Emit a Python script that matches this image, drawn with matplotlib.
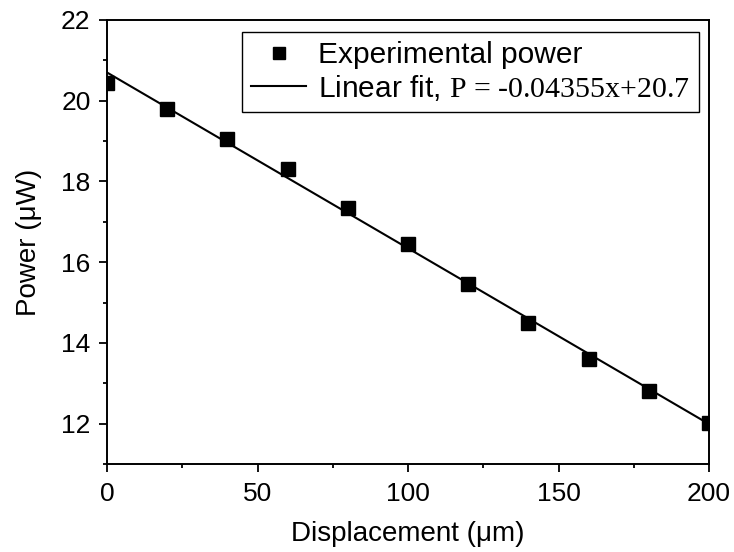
import numpy as np
import matplotlib
matplotlib.use("Agg")
import matplotlib.pyplot as plt
from matplotlib.ticker import MultipleLocator

plt.rcParams['font.family'] = ['Liberation Sans', 'DejaVu Sans']
plt.rcParams['mathtext.fontset'] = 'custom'
plt.rcParams['mathtext.rm'] = 'Liberation Serif'

# Measured power vs displacement
displacement = [0, 20, 40, 60, 80, 100, 120, 140, 160, 180, 200]
power = [20.45, 19.8, 19.05, 18.3, 17.35, 16.45, 15.45, 14.5, 13.6, 12.8, 12.02]

# Linear fit from the legend
fit_slope = -0.04355
fit_intercept = 20.7

fig = plt.figure(figsize=(7.34, 5.52), dpi=100)
ax = fig.add_axes([107 / 734, 1 - 464 / 552, (709 - 107) / 734, (464 - 20) / 552])

x = np.array(displacement)
ax.plot(x, power, "s", color="black", ms=9.5, label="Experimental power")
ax.plot(x, fit_slope * x + fit_intercept, "-", color="black", lw=1.5,
        label=r"Linear fit, $\text{P = -0.04355x+20.7}$")

ax.set_xlim(0, 200)
ax.set_ylim(11, 22)
ax.xaxis.set_major_locator(MultipleLocator(50))
ax.xaxis.set_minor_locator(MultipleLocator(25))
ax.yaxis.set_major_locator(MultipleLocator(2))
ax.yaxis.set_minor_locator(MultipleLocator(1))
ax.tick_params(which="both", direction="out", top=False, right=False, width=1.3, labelsize=19)
ax.tick_params(which="major", length=5.8)
ax.tick_params(which="minor", length=3)
ax.tick_params(axis="x", which="major", pad=7)
ax.tick_params(axis="y", which="major", pad=6)
for s in ax.spines.values():
    s.set_linewidth(1.4)

ax.set_xlabel("Displacement (μm)", fontsize=20, labelpad=11)
ax.set_ylabel("Power (μW)", fontsize=20, labelpad=14)

leg = ax.legend(loc="upper left", bbox_to_anchor=(242 / 734, 1 - 32 / 552),
                bbox_transform=fig.transFigure, borderaxespad=0,
                fontsize=21.5, frameon=True, fancybox=False, markerscale=0.85,
                edgecolor="black", handlelength=1.85, handletextpad=0.4,
                borderpad=0.3, labelspacing=0.12, framealpha=1)
leg.get_frame().set_linewidth(1.0)

fig.savefig("out.png", dpi=100)
